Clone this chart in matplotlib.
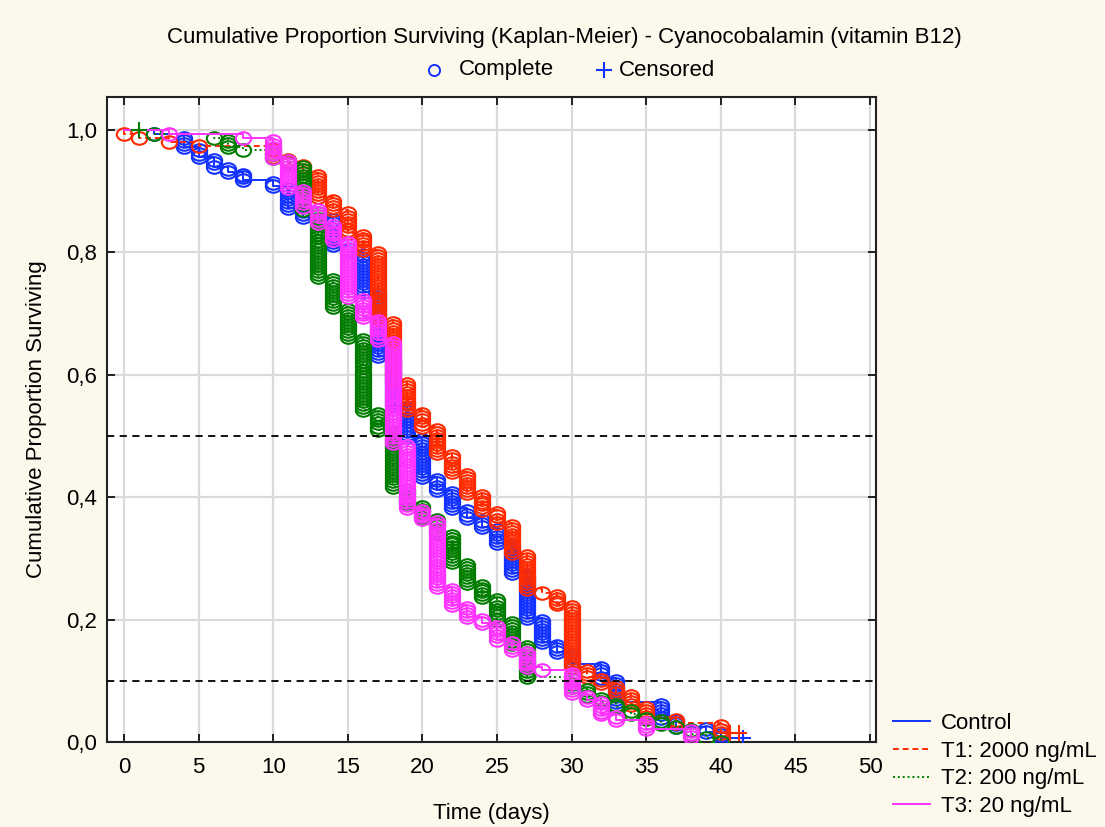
import matplotlib
matplotlib.use("Agg")
import matplotlib.pyplot as plt
from matplotlib.lines import Line2D
from matplotlib.path import Path
from matplotlib.ticker import FuncFormatter
import numpy as np

plt.rcParams['font.family'] = ['Liberation Sans', 'DejaVu Sans']

# Kaplan-Meier survival estimates (value after each event day)
control_days = [2, 4, 5, 6, 7, 8, 10, 11, 12, 14, 15, 16, 17, 18, 19, 20, 21, 22, 23, 24,
                25, 26, 27, 28, 29, 30, 32, 33, 36, 37, 39, 40]
control_surv = [0.993, 0.972, 0.956, 0.940, 0.932, 0.918, 0.908, 0.873, 0.858, 0.812, 0.800,
                0.735, 0.630, 0.550, 0.498, 0.433, 0.412, 0.382, 0.366, 0.351, 0.325, 0.276,
                0.203, 0.163, 0.147, 0.127, 0.105, 0.065, 0.040, 0.025, 0.016, 0.007]
control_cens = [41.5]

t1_days = [0, 1, 3, 5, 10, 11, 12, 13, 14, 15, 16, 17, 18, 19, 20, 21, 22, 23, 24, 25,
           26, 27, 28, 29, 30, 31, 32, 33, 34, 35, 37, 40]
t1_surv = [0.993, 0.987, 0.980, 0.974, 0.956, 0.946, 0.930, 0.890, 0.869, 0.832, 0.804,
           0.690, 0.590, 0.542, 0.515, 0.472, 0.441, 0.407, 0.379, 0.358, 0.309, 0.250,
           0.243, 0.225, 0.122, 0.106, 0.096, 0.080, 0.060, 0.041, 0.031, 0.015]
t1_cens = [40.6, 41.2]

t2_days = [2, 6, 7, 8, 10, 11, 12, 13, 14, 15, 16, 17, 18, 19, 20, 21, 22, 23, 24, 25,
           26, 27, 30, 31, 32, 33, 34, 35, 36, 37, 38, 39, 40]
t2_surv = [0.993, 0.987, 0.972, 0.967, 0.955, 0.945, 0.869, 0.760, 0.711, 0.662, 0.542,
           0.510, 0.417, 0.390, 0.368, 0.342, 0.294, 0.260, 0.237, 0.200, 0.160, 0.106,
           0.090, 0.075, 0.065, 0.057, 0.045, 0.038, 0.030, 0.025, 0.013, 0.007, 0.0]
t2_cens = [1]

t3_days = [3, 8, 10, 11, 12, 13, 14, 15, 16, 17, 18, 19, 20, 21, 22, 23, 24, 25, 26, 27,
           28, 30, 31, 32, 33, 35, 38]
t3_surv = [0.993, 0.987, 0.955, 0.905, 0.875, 0.848, 0.820, 0.727, 0.694, 0.657, 0.489,
           0.382, 0.364, 0.253, 0.224, 0.204, 0.194, 0.167, 0.150, 0.122, 0.117, 0.080,
           0.068, 0.045, 0.036, 0.022, 0.008]
t3_cens = []

n_subjects = 200

groups = [
    ("Control", control_days, control_surv, control_cens, "#1432ff", "-"),
    ("T1: 2000 ng/mL", t1_days, t1_surv, t1_cens, "#ff2a00", (0, (3, 2))),
    ("T2: 200 ng/mL", t2_days, t2_surv, t2_cens, "#007d00", (0, (1, 1.5))),
    ("T3: 20 ng/mL", t3_days, t3_surv, t3_cens, "#ff33ff", "-"),
]

# slightly flattened open circle used for each death
_uc = Path.unit_circle()
oval = Path(_uc.vertices * np.array([1.0, 0.82]), _uc.codes)

FS = 16
W, H = 1105, 827
bg = "#fdf8ec"
fig = plt.figure(figsize=(W / 100, H / 100), dpi=100, facecolor=bg)
ax = fig.add_axes([107 / W, 1 - 742 / H, (876 - 107) / W, (742 - 97) / H])
ax.set_facecolor("white")

for label, days, surv, cens, color, ls in groups:
    end = max([days[-1]] + cens)
    xs = [0] + list(days) + [end]
    ys = [1.0] + list(surv) + [surv[-1]]
    ax.plot(xs, ys, drawstyle="steps-post", color=color, ls=ls, lw=1.4, zorder=3)
    # one open marker per death, stacked along each vertical drop
    mx, my = [], []
    prev = 1.0
    for d, s in zip(days, surv):
        n = max(1, int(round((prev - s) * n_subjects)))
        for k in range(1, n + 1):
            mx.append(d)
            my.append(prev - k * (prev - s) / n)
        prev = s
    ax.plot(mx, my, ls="none", marker=oval, ms=11, mfc="none", mec=color, mew=1.5, zorder=3)
    # censored observations
    if cens:
        cy = []
        for c in cens:
            idx = np.searchsorted(days, c, side="right") - 1
            cy.append(1.0 if idx < 0 else surv[idx])
        ax.plot(cens, cy, ls="none", marker="+", ms=12, mec=color, mew=1.5, zorder=4)

for yref in (0.5, 0.1):
    ax.axhline(yref, color="black", ls=(0, (4, 3)), lw=1.3, zorder=5)

ax.set_xlim(-1.14, 50.4)
ax.set_ylim(0, 1.054)
ax.set_xticks(np.arange(0, 51, 5))
ax.set_yticks(np.arange(0, 1.01, 0.2))
ax.yaxis.set_major_formatter(FuncFormatter(lambda v, p: f"{v:.1f}".replace(".", ",")))
ax.grid(True, color="#dadada", lw=1.6, zorder=0)
ax.set_axisbelow(True)
ax.tick_params(direction="in", length=6, width=1.2, labelsize=FS, top=True, right=True,
               colors="black")
ax.tick_params(axis="x", pad=11)
ax.tick_params(axis="y", pad=7)
for sp in ax.spines.values():
    sp.set_linewidth(1.5)
    sp.set_color("#222222")

ax.set_xlabel("Time (days)", fontsize=FS, labelpad=18)
ax.set_ylabel("Cumulative Proportion Surviving", fontsize=FS, labelpad=14)

fig.text(564 / W, 1 - 37 / H, "Cumulative Proportion Surviving (Kaplan-Meier) - Cyanocobalamin (vitamin B12)",
         ha="center", va="center", fontsize=FS)

# marker key at the top
key_y = 1 - 70 / H
fig.add_artist(Line2D([434 / W], [key_y], ls="none", marker="o", ms=8, mfc="none",
                      mec="#1432ff", mew=1.4, transform=fig.transFigure))
fig.text(459 / W, key_y, "Complete", ha="left", va="center", fontsize=FS)
fig.add_artist(Line2D([604 / W], [key_y], ls="none", marker="+", ms=11,
                      mec="#1432ff", mew=1.5, transform=fig.transFigure))
fig.text(619 / W, key_y, "Censored", ha="left", va="center", fontsize=FS)

# series key at the bottom right
line_handles = [Line2D([], [], color=c, ls=l, lw=1.4) for _, _, _, _, c, l in groups]
fig.legend(line_handles, [g[0] for g in groups], loc="upper left", bbox_to_anchor=(893 / W, 1 - 713 / H),
           frameon=False, fontsize=FS, handlelength=1.67, handletextpad=0.5, labelspacing=0.3,
           borderpad=0, borderaxespad=0)

fig.savefig("out.png", dpi=100, facecolor=bg)
